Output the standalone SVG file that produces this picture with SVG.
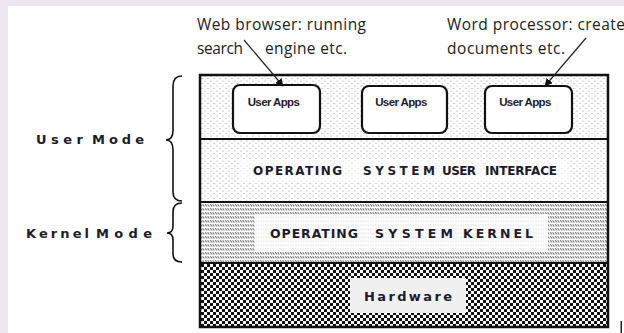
<svg xmlns="http://www.w3.org/2000/svg" width="624" height="333" viewBox="0 0 624 333">
<style>
.note{font-family:"Open Sans","Liberation Sans",Arial,sans-serif;font-size:15.5px;fill:#222}
.lbl{font-family:"DejaVu Sans","Liberation Sans",Arial,sans-serif;font-weight:bold;fill:#1c1c2c}
.app{font-family:"Liberation Sans",Arial,sans-serif;font-weight:bold;font-size:11.5px;fill:#1c1c2c;letter-spacing:-0.6px}
.brace{fill:none;stroke:#111;stroke-width:1.6}
.box{fill:#fff;stroke:#111;stroke-width:2.2}
.arrow{stroke:#222;stroke-width:1.2;fill:none}
</style>
<defs>
<pattern id="dots" width="6" height="5" patternUnits="userSpaceOnUse">
<rect width="6" height="5" fill="#fff"/>
<circle cx="1" cy="1" r="0.6" fill="#999"/>
<circle cx="4" cy="3.5" r="0.6" fill="#999"/>
</pattern>
<pattern id="hatch" width="2.5" height="4" patternUnits="userSpaceOnUse">
<rect width="2.5" height="4" fill="#fff"/>
<path d="M0.3,0.3 L1.9,2.4" stroke="#555" stroke-width="0.9"/>
</pattern>
<pattern id="checker" width="6" height="6" patternUnits="userSpaceOnUse">
<rect width="6" height="6" fill="#111"/>
<rect x="0" y="0" width="3" height="3" fill="#fff"/>
<rect x="3" y="3" width="3" height="3" fill="#fff"/>
</pattern>
<marker id="ah" viewBox="0 0 10 10" refX="9" refY="5" markerWidth="8" markerHeight="8" markerUnits="userSpaceOnUse" orient="auto">
<path d="M0,0 L10,5 L0,10 z" fill="#111"/>
</marker>
</defs>

<rect x="0" y="0" width="624" height="333" fill="#fff"/>
<rect x="0" y="0" width="624" height="6" fill="#eee6f0"/>
<rect x="0" y="0" width="8" height="333" fill="#eee6f0"/>

<g id="note-web">
<text class="note" x="197" y="30" textLength="169" lengthAdjust="spacing">Web browser: running</text>
<text class="note" x="197" y="54" textLength="46" lengthAdjust="spacing">search</text>
<text class="note" x="265" y="54" textLength="82" lengthAdjust="spacing">engine etc.</text>
</g>
<g id="note-word">
<text class="note" x="447" y="30" textLength="178" lengthAdjust="spacing">Word processor: create</text>
<text class="note" x="447" y="54" textLength="118" lengthAdjust="spacing">documents etc.</text>
</g>

<g id="user-mode">
<text class="lbl" font-size="13" x="36" y="144" textLength="47" lengthAdjust="spacing">User</text>
<text class="lbl" font-size="13" x="92" y="144" textLength="52" lengthAdjust="spacing">Mode</text>
<path class="brace" d="M182,76 Q173,76 173,86 L173,130 Q173,140 166,140 Q173,140 173,150 L173,192 Q173,201 182,201"/>
</g>
<g id="kernel-mode">
<text class="lbl" font-size="13" x="26" y="238" textLength="63" lengthAdjust="spacing">Kernel</text>
<text class="lbl" font-size="13" x="96" y="238" textLength="56" lengthAdjust="spacing">Mode</text>
<path class="brace" d="M182,203 Q173,203 173,212 L173,226 Q173,233 167,233 Q173,233 173,240 L173,254 Q173,262 182,262"/>
</g>

<g id="layer-apps">
<rect x="200" y="75" width="408" height="64" fill="url(#dots)"/>
</g>
<g id="layer-osui">
<rect x="200" y="139" width="408" height="63" fill="url(#dots)"/>
<rect x="240" y="160" width="330" height="22" fill="#fff" opacity="0.6"/>
<text class="lbl" font-size="12" x="253" y="175" textLength="89" lengthAdjust="spacing">OPERATING</text>
<text class="lbl" font-size="12" x="363" y="175" textLength="72" lengthAdjust="spacing">SYSTEM</text>
<text class="lbl" font-size="12" x="442" y="175" textLength="34" lengthAdjust="spacing">USER</text>
<text class="lbl" font-size="12" x="485" y="175" textLength="72" lengthAdjust="spacing">INTERFACE</text>
</g>
<g id="layer-kernel">
<rect x="200" y="202" width="408" height="61" fill="url(#hatch)"/>
<rect x="255" y="214" width="293" height="37" fill="#fff" opacity="0.85"/>
<text class="lbl" font-size="12.5" x="270" y="238" textLength="88" lengthAdjust="spacing">OPERATING</text>
<text class="lbl" font-size="12.5" x="375" y="238" textLength="78" lengthAdjust="spacing">SYSTEM</text>
<text class="lbl" font-size="12.5" x="463" y="238" textLength="70" lengthAdjust="spacing">KERNEL</text>
</g>
<g id="layer-hardware">
<rect x="200" y="263" width="408" height="64" fill="url(#checker)"/>
<rect x="350" y="278" width="116" height="35" fill="#f0f0f0"/>
<text class="lbl" font-size="13" x="364" y="301" textLength="88" lengthAdjust="spacing">Hardware</text>
</g>

<g id="frame" fill="none" stroke="#111">
<rect x="200" y="75" width="408" height="252" stroke-width="2.5"/>
<line x1="200" y1="139" x2="608" y2="139" stroke-width="2"/>
<line x1="200" y1="202" x2="608" y2="202" stroke-width="2"/>
<line x1="200" y1="263" x2="608" y2="263" stroke-width="2"/>
</g>

<g id="app1">
<rect class="box" x="233" y="85" width="87" height="48" rx="7"/>
<text class="app" x="273.5" y="106" text-anchor="middle">User Apps</text>
</g>
<g id="app2">
<rect class="box" x="362" y="86" width="85" height="47" rx="7"/>
<text class="app" x="401" y="106" text-anchor="middle">User Apps</text>
</g>
<g id="app3">
<rect class="box" x="485" y="86" width="87" height="47" rx="7"/>
<text class="app" x="525" y="106" text-anchor="middle">User Apps</text>
</g>

<g id="connectors">
<line class="arrow" x1="244" y1="40" x2="283" y2="86" marker-end="url(#ah)"/>
<line class="arrow" x1="586" y1="38" x2="545" y2="86" marker-end="url(#ah)"/>
</g>

<rect x="620.5" y="321" width="1.5" height="12" fill="#222"/>
</svg>
